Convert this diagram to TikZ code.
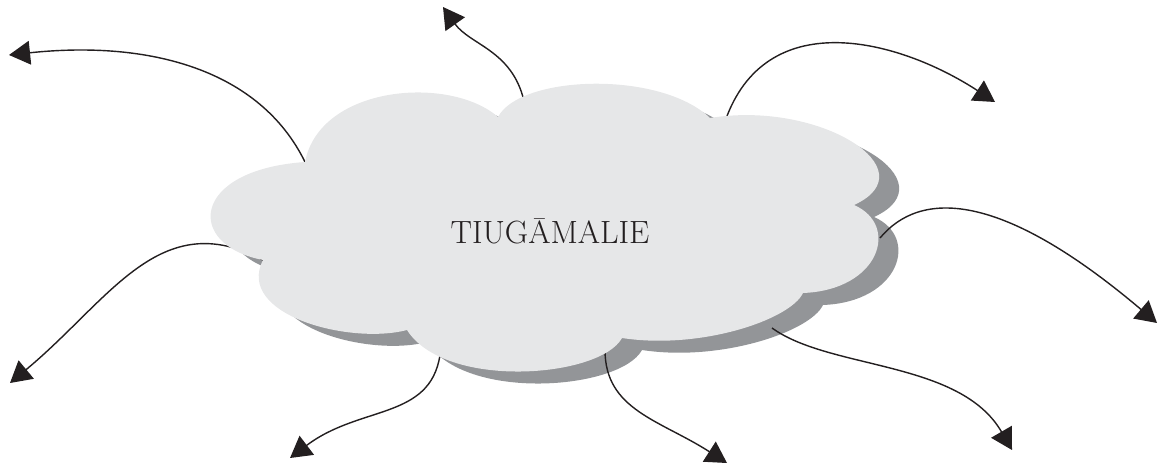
\documentclass[tikz,border=0pt]{standalone}
\usepackage{tikz}
\usetikzlibrary{arrows.meta}
\usepackage{xcolor}
\definecolor{cloudlight}{HTML}{E6E7E8}
\definecolor{cloudshade}{HTML}{939598}
\definecolor{ink}{HTML}{231F20}
\newcommand{\cloudoutline}{(263,260) .. controls (185,245) and (190,170) .. (305,162)
  .. controls (320,85) and (450,75) .. (498,117)
  .. controls (520,75) and (660,70) .. (710,118)
  .. controls (820,100) and (930,170) .. (854,205)
  .. controls (900,225) and (880,290) .. (803,293)
  .. controls (790,320) and (700,350) .. (622,338)
  .. controls (600,378) and (445,390) .. (407,330)
  .. controls (350,345) and (235,315) .. (263,260) -- cycle}

\begin{document}
\begin{tikzpicture}[x=0.02cm,y=-0.02cm,
  spoke/.style={ink,line width=0.8pt,-{Triangle[length=12pt,width=13.5pt]}}]
  \useasboundingbox (0,0) rectangle (1158,466);
  % shadow of the cloud
  \fill[cloudshade,shift={(20,12)}] \cloudoutline;
  % ends of the spokes
  \coordinate (nwS) at (305,162);  \coordinate (nwT) at (9,55);
  \coordinate (nS)  at (524,101);  \coordinate (nT)  at (443,7);
  \coordinate (neS) at (727,116);  \coordinate (neT) at (995,102);
  \coordinate (eS)  at (880,238);  \coordinate (eT)  at (1157,323);
  \coordinate (seS) at (772,328);  \coordinate (seT) at (1012,450);
  \coordinate (sS)  at (605,350);  \coordinate (sT)  at (727,463);
  \coordinate (swS) at (440,355);  \coordinate (swT) at (290,458);
  \coordinate (wS)  at (263,260);  \coordinate (wT)  at (10,383);
  % spokes
  \draw[spoke] (nwS) .. controls (260,70) and (150,40) .. (nwT);
  \draw[spoke] (nS) .. controls (512,50) and (470,45) .. (nT);
  \draw[spoke] (neS) .. controls (770,5) and (900,40) .. (neT);
  \draw[spoke] (eS) .. controls (920,190) and (1000,190) .. (eT);
  \draw[spoke] (seS) .. controls (830,370) and (960,360) .. (seT);
  \draw[spoke] (sS) .. controls (605,410) and (660,420) .. (sT);
  \draw[spoke] (swS) .. controls (430,420) and (360,405) .. (swT);
  \draw[spoke] (wS) .. controls (160,205) and (110,300) .. (wT);
  % the cloud
  \fill[cloudlight] \cloudoutline;
  \node[ink,anchor=base,font=\fontsize{18.3}{22}\selectfont] (name) at (550,243) {TIUGĀMALIE};
\end{tikzpicture}
\end{document}
